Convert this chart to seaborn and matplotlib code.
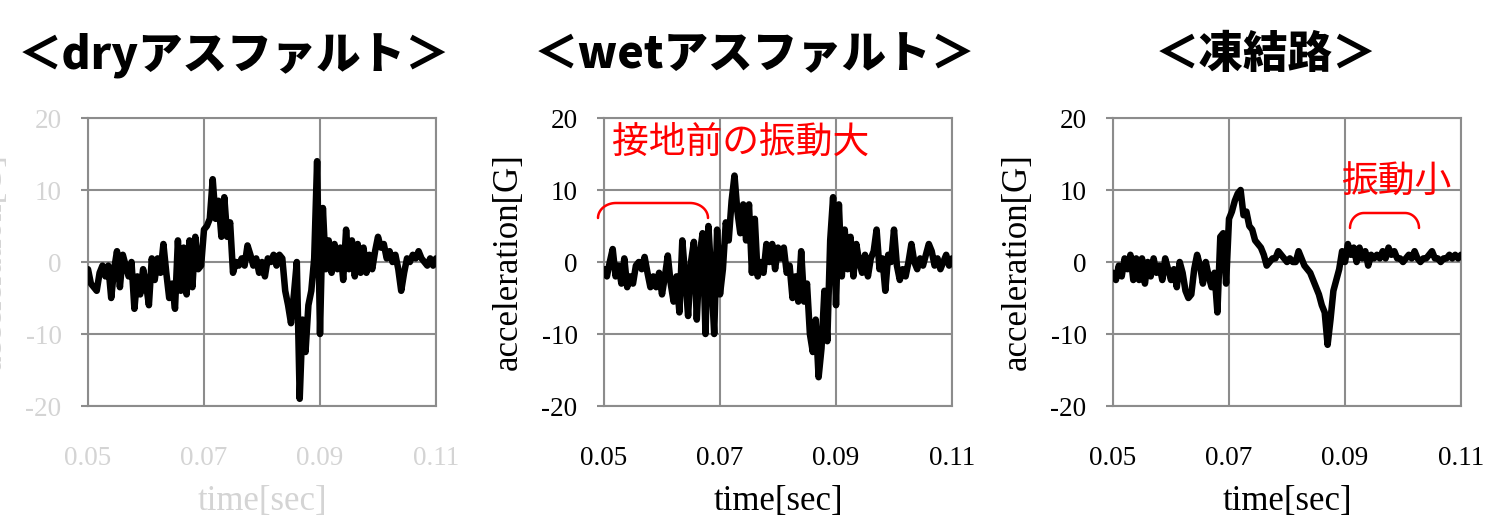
import numpy as np
import pandas as pd
import seaborn as sns
import matplotlib.pyplot as plt
from matplotlib.lines import Line2D

# sampled time axis (0.05 - 0.11 sec, every 0.5 ms)
time = np.linspace(0.05, 0.11, 121)

# acceleration [G]
dry = [-1.0, -3.0, -3.5, -4.0, -1.5, -0.5, -2.0, -0.5, -5.0, -1.0,
       1.5, -3.5, 1.0, -0.5, -2.0, 0.0, -6.5, -2.0, -4.5, -1.0,
       -3.0, -6.0, 0.5, -2.5, 0.5, -1.5, 2.5, -1.5, -5.0, -3.0,
       -6.5, 3.0, -4.0, 2.0, -4.5, 3.0, -3.5, 3.5, -1.0, -0.5,
       4.5, 5.0, 6.0, 11.5, 6.0, 8.5, 3.5, 9.0, 3.5, 5.5,
       -1.5, 0.0, -0.5, 0.5, -0.5, 2.3, 1.0, -0.5, 0.5, -1.5,
       0.0, -2.0, 0.5, 0.0, 1.0, -0.5, 1.0, 0.5, -4.0, -6.0,
       -8.5, -4.5, 0.0, -19.0, -8.0, -12.5, -6.0, -4.0, 0.5, 14.0,
       -10.0, 7.5, -1.0, 3.0, -1.5, 2.5, -1.0, 2.0, -2.5, 4.5,
       -1.0, 3.0, -2.0, 2.5, -1.5, 2.0, -1.5, 1.0, -1.0, 1.5,
       3.5, 2.0, 2.5, 0.5, 1.5, 0.0, 1.0, -1.0, -4.0, -1.5,
       0.5, 0.0, 1.0, 0.5, 1.5, 0.5, 0.0, -0.5, 0.5, -0.5, 0.5]

wet = [-1.0, -2.0, 0.0, 1.8, -2.0, -0.5, -3.0, 0.5, -3.5, -2.0,
       -3.0, -0.5, 0.0, -1.0, 0.7, -1.5, -3.5, -2.0, -3.5, -1.5,
       -4.5, -2.0, 0.9, -3.0, -5.5, -2.0, -7.0, 3.0, -2.0, -7.5,
       0.0, 2.8, -8.0, 1.0, 4.0, -10.0, 5.0, -2.0, -10.0, 4.5,
       -4.5, -1.0, 5.5, 3.0, 8.5, 12.0, 7.0, 4.0, 8.0, 3.0,
       8.0, -1.5, 6.0, -2.0, 0.0, -1.5, 2.5, 0.0, 2.5, -1.0,
       2.0, 0.5, 2.0, -1.5, -0.5, -5.0, -2.0, -5.5, 1.5, -5.5,
       -3.0, -10.0, -12.5, -8.0, -16.0, -12.0, -4.0, -11.0, 3.0, 9.0,
       -6.0, 8.0, -2.0, 4.5, -1.0, 3.5, -2.0, 2.5, 0.0, -1.5,
       1.0, -2.0, 0.5, 1.5, 4.5, -1.0, 0.5, -4.0, 1.0, 0.0,
       4.5, -0.5, -2.5, -1.0, -2.0, 0.0, 2.5, 0.0, -1.0, 0.5,
       -0.5, 1.0, 2.5, 1.5, -0.5, 0.5, -1.0, 0.0, 1.0, -0.5, 0.5]

ice = [-1.5, -2.5, -0.5, -2.0, 0.5, -1.0, 1.0, -2.5, 0.5, -2.5,
       0.5, -3.0, 0.0, -2.0, 0.5, -1.5, -0.5, -2.5, 0.5, -1.0,
       -2.5, -1.0, -3.5, 0.0, -1.5, -4.0, -5.0, -4.5, -1.0, 1.0,
       -0.5, -3.0, 0.0, -2.0, -3.5, -1.5, -7.0, 3.5, 4.0, -3.0,
       6.0, 7.0, 8.5, 9.5, 10.0, 6.5, 7.0, 5.0, 4.5, 3.0,
       2.5, 2.0, 1.0, -0.5, 0.0, 0.5, 0.5, 1.5, 1.0, 0.5,
       0.0, 0.5, 0.0, 0.0, 1.5, 0.5, -0.5, -1.0, -1.5, -2.5,
       -3.5, -4.5, -6.0, -7.0, -11.5, -8.0, -4.0, -2.5, -1.0, 1.5,
       0.0, 2.5, 1.0, 2.0, 0.0, 2.0, 0.5, 1.5, -0.5, 1.0,
       0.5, 1.0, 0.5, 1.5, 0.5, 2.0, 1.0, 1.5, 0.5, 0.5,
       0.0, 0.5, 1.0, 0.5, 1.5, 0.5, 0.0, 0.5, 0.5, 1.0,
       1.5, 0.5, 0.5, 0.0, 0.5, 0.5, 1.0, 0.5, 1.0, 0.5, 1.0]

titles = ['＜dryアスファルト＞', '＜wetアスファルト＞', '＜凍結路＞']
x_ticks = [0.05, 0.07, 0.09, 0.11]
x_labels = ['0.05', '0.07', '0.09', '0.11']
y_ticks = [-20, -10, 0, 10, 20]

sns.set_theme(style='white')
plt.rcParams['font.family'] = ['Liberation Serif', 'Noto Sans CJK JP']
plt.rcParams['axes.unicode_minus'] = False

W, H = 1488, 521
fig = plt.figure(figsize=(W / 100, H / 100), dpi=100)

grid_c = '#8c8c8c'
lefts = [88, 604, 1113]
title_x = [234, 755, 1266]
text_colors = ['#d4d4d4', 'black', 'black']
jp = ['Noto Sans CJK JP', 'DejaVu Sans']

for i, vals in enumerate([dry, wet, ice]):
    ax = fig.add_axes([lefts[i] / W, 1 - 406 / H, 348 / W, 288 / H])
    df = pd.DataFrame({'time': time, 'acc': vals})
    sns.lineplot(data=df, x='time', y='acc', ax=ax, color='black',
                 linewidth=4.7, sort=False, zorder=3)
    ax.set_xlim(0.05, 0.11)
    ax.set_ylim(-20, 20)
    ax.set_xticks(x_ticks, x_labels)
    ax.set_yticks(y_ticks)
    ax.set_axisbelow(True)
    ax.grid(True, color=grid_c, linewidth=1.5)
    for s in ax.spines.values():
        s.set_color(grid_c)
        s.set_linewidth(1.5)
    c = text_colors[i]
    ax.tick_params(axis='y', left=True, length=5, width=1.5, color=grid_c,
                   pad=14, labelsize=19.5, labelcolor=c)
    ax.tick_params(axis='x', length=0, pad=29, labelsize=19.5, labelcolor=c)
    ax.set_xlabel('time[sec]', fontsize=25, color=c, labelpad=10)
    ax.set_ylabel('acceleration[G]', fontsize=25, color=c, labelpad=12)
    fig.text(title_x[i] / W, 1 - 55 / H, titles[i], family=jp, weight='black',
             color='black', fontsize=32, ha='center', va='center')


def bracket(x0, x1, y_top, depth, r):
    # rounded bracket in pixel coords, drawn on the figure
    a = np.linspace(0, np.pi / 2, 20)
    lx = x0 + r - r * np.cos(a)
    ly = y_top + depth - depth * np.sin(a)
    rx = x1 - r + r * np.sin(a)
    ry = y_top + depth * (1 - np.cos(a))
    xs = np.concatenate([lx, rx]) / W
    ys = 1 - np.concatenate([ly, ry]) / H
    fig.add_artist(Line2D(xs, ys, color='red', linewidth=1.8,
                          transform=fig.transFigure))


fig.text(741 / W, 1 - 142 / H, '接地前の振動大', color='red', family=jp,
         fontsize=26.5, ha='center', va='center')
bracket(598, 708, 203, 15, 18)
fig.text(1396 / W, 1 - 182 / H, '振動小', color='red', family=jp,
         fontsize=26.5, ha='center', va='center')
bracket(1350, 1419, 213, 15, 14)

fig.savefig('out.png', dpi=100)
